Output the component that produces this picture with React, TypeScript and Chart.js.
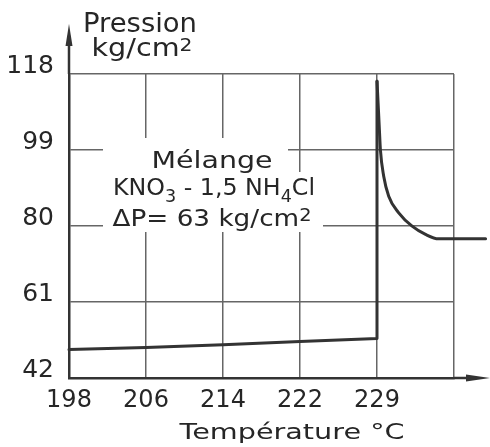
import { useEffect, useRef } from 'react';
import { Chart, registerables } from 'chart.js';
Chart.register(...registerables);

// Tick labels (x positions are equal grid steps: 0 = 198 °C ... 4 = 229 °C)
const xTickLabels = ['198', '206', '214', '222', '229', ''];
const yTickValues = [42, 61, 80, 99, 118];

// Heating branch: slow rise, then sudden jump (x in grid steps, y in kg/cm2)
const riseX = [0, 1, 2, 3, 4, 4];
const riseY = [49.1, 49.6, 50.3, 51.1, 51.9, 116.2];

// Decay after the peak
const decayX = [4, 4.014, 4.031, 4.044, 4.087, 4.152, 4.282, 4.456, 4.63, 4.8, 5.41];
const decayY = [116.2, 110.8, 104.1, 99.1, 92.45, 87.45, 83.3, 79.95, 77.9, 76.8, 76.8];

const FONT = "'DejaVu Sans', sans-serif";
const INK = '#262626';

type Seg = { t: string; sub?: boolean; sup?: boolean };

function drawRich(ctx: CanvasRenderingContext2D, segs: Seg[], cx: number, baseline: number, size: number, targetW: number) {
  const small = Math.round(size * 0.72);
  let w = 0;
  for (const s of segs) {
    ctx.font = `${s.sub || s.sup ? small : size}px ${FONT}`;
    w += ctx.measureText(s.t).width;
  }
  const sx = targetW / w;
  ctx.save();
  ctx.translate(cx, baseline);
  ctx.scale(sx, 1);
  ctx.fillStyle = INK;
  ctx.textBaseline = 'alphabetic';
  ctx.textAlign = 'left';
  let x = -w / 2;
  for (const s of segs) {
    ctx.font = `${s.sub || s.sup ? small : size}px ${FONT}`;
    const dy = s.sub ? size * 0.3 : s.sup ? -size * 0.22 : 0;
    ctx.fillText(s.t, x, dy);
    x += ctx.measureText(s.t).width;
  }
  ctx.restore();
}

const decorPlugin = {
  id: 'decor',
  beforeDatasetsDraw(chart: any) {
    const ctx = chart.ctx;
    ctx.save();
    ctx.fillStyle = '#ffffff';
    ctx.fillRect(103, 138, 185, 34);
    ctx.fillRect(103, 172, 220, 60);
    ctx.restore();
  },
  afterDraw(chart: any) {
    const ctx = chart.ctx;
    const { left, top, right, bottom } = chart.chartArea;
    ctx.save();
    ctx.strokeStyle = '#333';
    ctx.fillStyle = '#333';
    ctx.lineWidth = 2.5;
    // y axis arrow
    ctx.beginPath();
    ctx.moveTo(left, top);
    ctx.lineTo(left, 40);
    ctx.stroke();
    ctx.beginPath();
    ctx.moveTo(left, 24);
    ctx.lineTo(left - 3.5, 46);
    ctx.lineTo(left + 3.5, 46);
    ctx.closePath();
    ctx.fill();
    // x axis arrow
    ctx.beginPath();
    ctx.moveTo(right, bottom);
    ctx.lineTo(472, bottom);
    ctx.stroke();
    ctx.beginPath();
    ctx.moveTo(490, bottom);
    ctx.lineTo(466, bottom - 3.5);
    ctx.lineTo(466, bottom + 3.5);
    ctx.closePath();
    ctx.fill();
    ctx.restore();

    drawRich(ctx, [{ t: 'Pression' }], 140, 32, 26, 114);
    drawRich(ctx, [{ t: 'kg/cm' }, { t: '2', sup: true }], 142, 56, 24, 101);
    drawRich(ctx, [{ t: 'Température °C' }], 292, 439, 22, 225);
    drawRich(ctx, [{ t: 'Mélange' }], 212, 168, 23, 121);
    drawRich(ctx, [{ t: 'KNO' }, { t: '3', sub: true }, { t: ' - 1,5 NH' }, { t: '4', sub: true }, { t: 'Cl' }], 214, 195, 23, 202);
    drawRich(ctx, [{ t: 'ΔP= 63 kg/cm' }, { t: '2', sup: true }], 212, 226, 23, 199);
  },
};

export default function App() {
  const ref = useRef<HTMLCanvasElement | null>(null);
  useEffect(() => {
    if (!ref.current) return;
    const lineStyle = {
      borderColor: '#333',
      borderWidth: 3,
      pointRadius: 0,
      clip: false as any,
      borderJoinStyle: 'round' as const,
      borderCapStyle: 'round' as const,
    };
    const chart = new Chart(ref.current, {
      type: 'line',
      data: {
        datasets: [
          { ...lineStyle, data: riseX.map((x, i) => ({ x, y: riseY[i] })), tension: 0 },
          {
            ...lineStyle,
            data: decayX.map((x, i) => ({ x, y: decayY[i] })),
            cubicInterpolationMode: 'monotone',
          },
        ],
      },
      options: {
        animation: false,
        responsive: true,
        maintainAspectRatio: false,
        layout: { padding: { top: 74, right: 36, left: 0, bottom: 0 } },
        plugins: { legend: { display: false }, tooltip: { enabled: false } },
        scales: {
          x: {
            type: 'linear',
            min: 0,
            max: 5,
            afterBuildTicks: (s: any) => {
              s.ticks = xTickLabels.map((_, i) => ({ value: i }));
            },
            afterFit: (s: any) => {
              s.height = 69;
            },
            ticks: {
              callback: (v: any) => xTickLabels[Math.round(v)] ?? '',
              font: { family: FONT, size: 24 },
              color: INK,
              padding: 8,
              maxRotation: 0,
              autoSkip: false,
            },
            grid: { color: '#666', lineWidth: 1.5, drawTicks: false },
            border: { color: '#333', width: 2.5 },
          },
          y: {
            type: 'linear',
            min: 42,
            max: 118,
            afterBuildTicks: (s: any) => {
              s.ticks = yTickValues.map((v) => ({ value: v }));
            },
            afterFit: (s: any) => {
              s.width = 69;
            },
            ticks: {
              font: { family: FONT, size: 25 },
              color: INK,
              padding: 15,
              labelOffset: -8,
            },
            grid: { color: '#666', lineWidth: 1.5, drawTicks: false },
            border: { color: '#333', width: 2.5 },
          },
        },
      },
      plugins: [decorPlugin],
    });
    return () => chart.destroy();
  }, []);
  return (
    <div style={{ position: 'fixed', left: 0, top: 0, width: 490, height: 447, background: '#fff' }}>
      <canvas ref={ref} />
    </div>
  );
}
